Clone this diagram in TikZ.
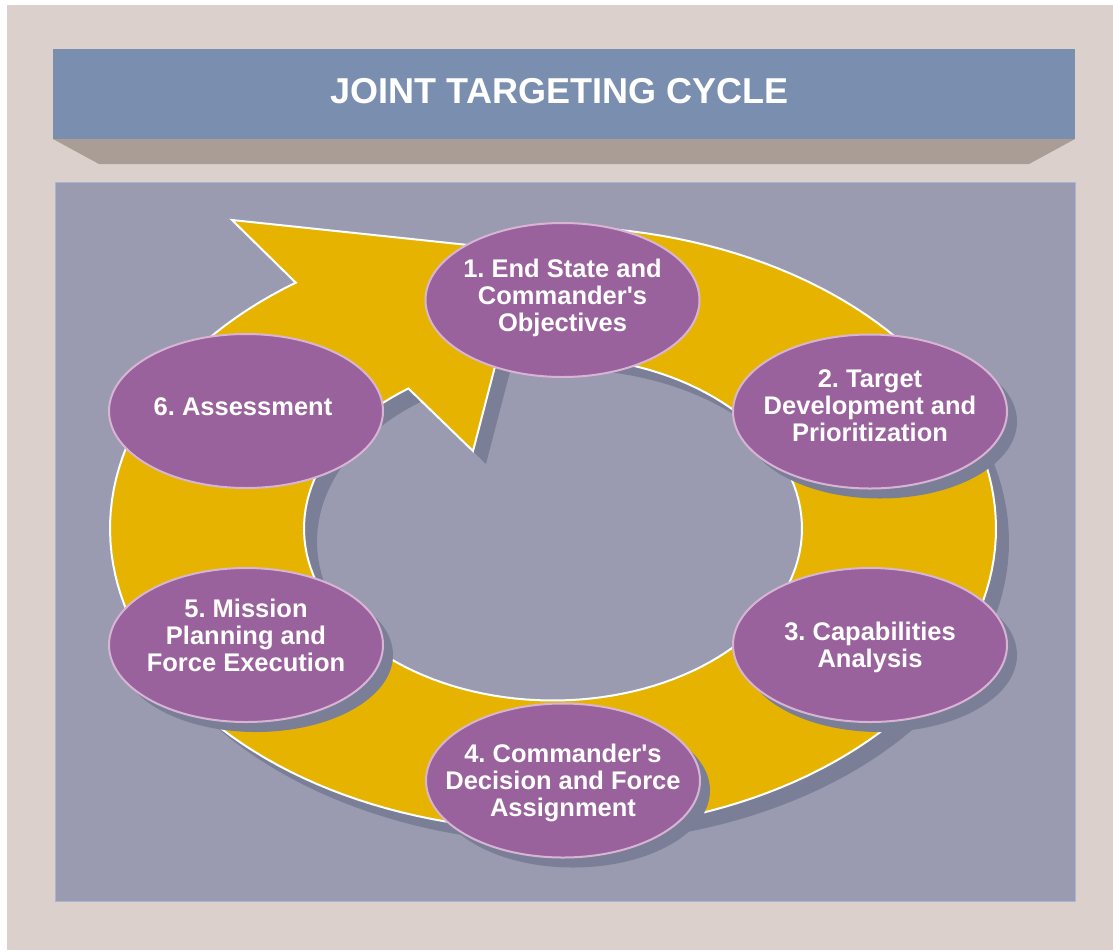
\documentclass[tikz,border=0pt]{standalone}
\usepackage{fontspec}
\setmainfont{Liberation Sans}
\usetikzlibrary{shapes.geometric}
\definecolor{bgbeige}{HTML}{DBD0CB}
\definecolor{titleblue}{HTML}{7A8FB0}
\definecolor{trapcol}{HTML}{A99D95}
\definecolor{panelcol}{HTML}{9A9BB0}
\definecolor{panelborder}{HTML}{AAB4D7}
\definecolor{ringcol}{HTML}{E6B400}
\definecolor{shadowcol}{HTML}{7A7F97}
\definecolor{ellfill}{HTML}{9A629C}
\definecolor{elledge}{HTML}{D8B4D4}
\frenchspacing
\tikzset{
  stage/.style={ellipse, minimum width=274pt, minimum height=154pt, inner sep=0pt,
    fill=ellfill, draw=elledge, line width=2pt},
  lbl/.style={align=center, text=white, inner sep=0pt,
    font=\fontsize{25.5}{27}\selectfont\bfseries},
  eshadow/.style={fill=shadowcol},
}
\begin{document}
\begin{tikzpicture}[x=1pt,y=-1pt]
\useasboundingbox (0,0) rectangle (1113,951);
% background
\fill[white] (0,0) rectangle (1113,951);
\fill[bgbeige] (7,5) rectangle (1113,950);
% title bar
\fill[trapcol] (53,139) -- (1075,139) -- (1029,164) -- (99,164) -- cycle;
\fill[titleblue] (53,49) rectangle (1075,139);
\node[inner sep=0pt, text=white, font=\fontsize{36}{40}\selectfont\bfseries] (title) at (559.5,91) {JOINT TARGETING CYCLE};
% panel
\filldraw[fill=panelcol, draw=panelborder, line width=1pt] (55,182) rectangle (1075,901);
% ring shadow
\fill[shadowcol, shift={(13,13)}]
  plot[domain=-90:234.5,samples=160] ({553+443*cos(\x)},{528.5+302*sin(\x)})
  -- (232,220) -- (525,251) -- (473,451)
  -- plot[domain=234.5:-90,samples=130] ({553+249*cos(\x)},{528.5+172*sin(\x)}) -- cycle;
% ring with arrow head
\filldraw[fill=ringcol, draw=white, line width=2pt, line join=miter]
  plot[domain=-90:234.5,samples=160] ({553+443*cos(\x)},{528.5+302*sin(\x)})
  -- (232,220) -- (525,251) -- (473,451)
  -- plot[domain=234.5:-90,samples=130] ({553+249*cos(\x)},{528.5+172*sin(\x)}) -- cycle;
% stage centres
\coordinate (c1) at (562.5,300);
\coordinate (c2) at (870,411.5);
\coordinate (c3) at (870,645);
\coordinate (c4) at (563,780.5);
\coordinate (c5) at (246,645);
\coordinate (c6) at (246,411);
% shadows of the stages (stages 1 and 6 have none)
\foreach \c in {c2,c3,c4,c5}
  \fill[eshadow] ([shift={(10,10)}]\c) ellipse [x radius=137pt, y radius=77pt];
% stages
\node[stage] (e1) at (c1) {};
\node[stage] (e2) at (c2) {};
\node[stage] (e3) at (c3) {};
\node[stage] (e4) at (c4) {};
\node[stage] (e5) at (c5) {};
\node[stage] (e6) at (c6) {};
% texts
\node[lbl] (t1) at (562.5,297.6) {1. End State and\\Commander\textquotesingle s\\Objectives};
\node[lbl] (t2) at (870,405.5) {2. Target\\Development and\\Prioritization};
\node[lbl] (t3) at (870,647.6) {3. Capabilities\\Analysis};
\node[lbl] (t4) at (563,783) {4. Commander\textquotesingle s\\Decision and Force\\Assignment};
\node[lbl] (t5) at (246,635.5) {5. Mission\\Planning and\\Force Execution};
\node[lbl] (t6) at (243,407) {6. Assessment};
\end{tikzpicture}
\end{document}
